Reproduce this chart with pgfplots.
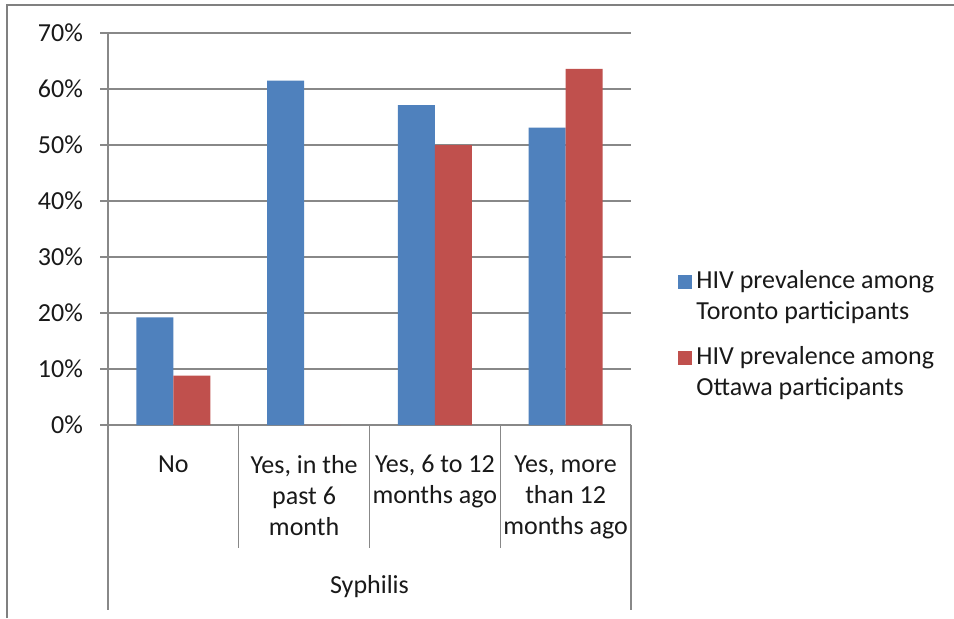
\documentclass[border=0pt]{standalone}
\usepackage{pgfplots}
\pgfplotsset{compat=1.18}
\usepackage{fontspec}
\setmainfont{Carlito}
\definecolor{torblue}{HTML}{4F81BD}
\definecolor{ottred}{HTML}{C0504D}
\definecolor{gridgray}{HTML}{888888}
\definecolor{framegray}{HTML}{808080}
\newcommand{\chartfont}{\fontsize{13}{15.5}\selectfont}
\begin{document}
\begin{tikzpicture}
\path[use as bounding box] (0pt,0pt) rectangle (477pt,309pt);
\fill[white] (0pt,0pt) rectangle (477pt,309pt);
% chart area border
\draw[framegray, line width=1.2pt] (3.5pt,0pt) -- (3.5pt,306.5pt) -- (477pt,306.5pt);
\begin{axis}[
  at={(54pt,96.5pt)}, anchor=south west,
  scale only axis, width=261.5pt, height=196pt,
  ymin=0, ymax=70, xmin=-0.5, xmax=3.5,
  axis lines*=left,
  axis line style={gridgray, line width=0.6pt},
  xtick=\empty,
  ytick={0,10,...,70},
  ymajorgrids,
  grid style={gridgray, line width=0.6pt},
  tick align=outside,
  major tick length=4pt,
  ytick style={gridgray, line width=0.6pt},
  yticklabel={\pgfmathprintnumber{\tick}\%},
  /pgf/number format/assume math mode=true,
  yticklabel style={font=\chartfont, text=black!90, xshift=-5pt},
  ybar=0pt, bar width=18.5pt,
  clip=false,
  legend cell align=left,
  legend style={at={(rel axis cs:1.09,0.405)}, anchor=north west,
    draw=none, fill=none, font=\chartfont, text=black!90, row sep=8pt,
    cells={align=left}, inner sep=0pt},
  legend image code/.code={\fill[#1] (0pt,4pt) rectangle (7pt,11pt);},
]
\addplot[fill=torblue, draw=none] coordinates {(0,19.2) (1,61.5) (2,57.1) (3,53.1)};
\addlegendentry{HIV prevalence among\\Toronto participants}
\addplot[fill=ottred, draw=none] coordinates {(0,8.8) (1,0) (2,50.0) (3,63.6)};
\addlegendentry{HIV prevalence among\\Ottawa participants}

% category dividers below the axis
\draw[gridgray, line width=0.6pt] (axis cs:-0.5,0) -- ++(0pt,-92.5pt);
\draw[gridgray, line width=0.6pt] (axis cs:0.5,0) -- ++(0pt,-61.5pt);
\draw[gridgray, line width=0.6pt] (axis cs:1.5,0) -- ++(0pt,-61.5pt);
\draw[gridgray, line width=0.6pt] (axis cs:2.5,0) -- ++(0pt,-61.5pt);
\draw[gridgray, line width=0.6pt] (axis cs:3.5,0) -- ++(0pt,-92.5pt);

% category labels
\tikzset{catlabel/.style={anchor=north, align=center, font=\chartfont, text=black!90, inner sep=0pt, yshift=-15pt}}
\node[catlabel] at (axis cs:0,0) {No};
\node[catlabel] at (axis cs:1,0) {Yes, in the\\past 6\\month};
\node[catlabel] at (axis cs:2,0) {Yes, 6 to 12\\months ago};
\node[catlabel] at (axis cs:3,0) {Yes, more\\than 12\\months ago};
\node[anchor=base, font=\chartfont, text=black!90, inner sep=0pt] at (axis cs:1.5,0) [yshift=-84pt] {Syphilis};
\end{axis}
\end{tikzpicture}
\end{document}
